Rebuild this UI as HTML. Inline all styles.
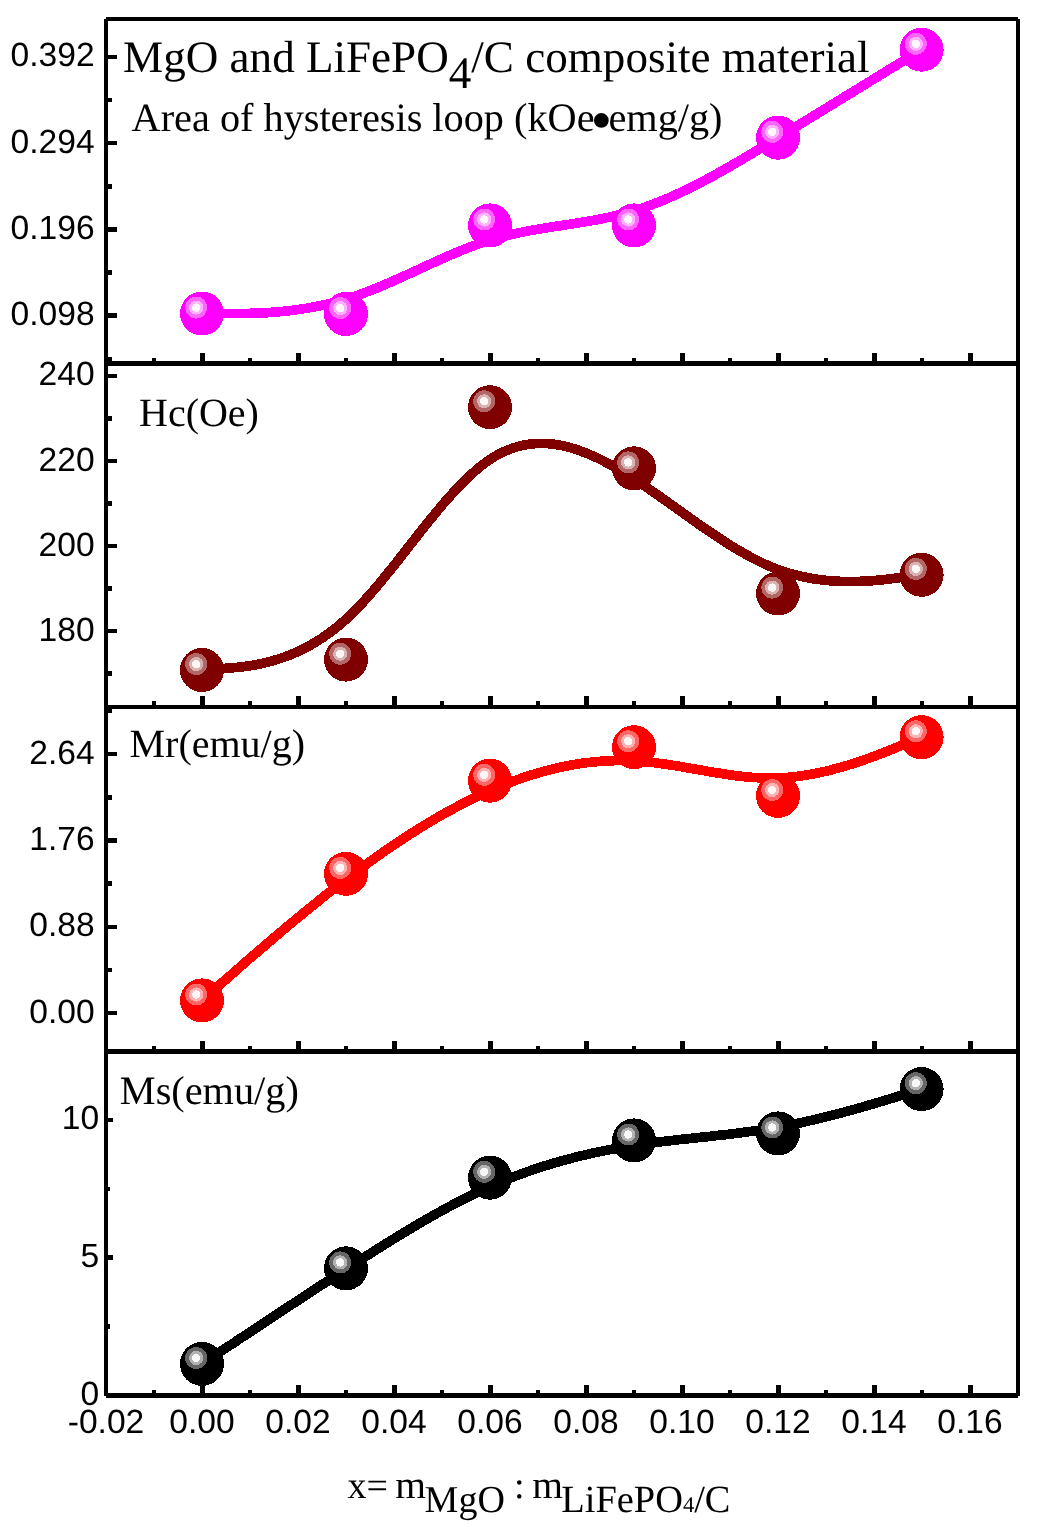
<!DOCTYPE html>
<html lang="en"><head><meta charset="utf-8"><title>MgO and LiFePO4/C composite material</title>
<style>html,body{margin:0;padding:0;background:#fff}svg{display:block}text{text-rendering:geometricPrecision}.a{font-family:"Liberation Sans",Arial,sans-serif;font-size:33.6px;fill:#000}.s{font-family:"Liberation Serif","Times New Roman",serif;fill:#000}</style></head><body>
<svg width="1038" height="1527" viewBox="0 0 1038 1527">
<defs><filter id="g" x="-5%" y="-20%" width="110%" height="140%"><feOffset dx="0" dy="0"/></filter></defs>
<rect width="1038" height="1527" fill="#fff"/>
<g shape-rendering="crispEdges">
<path d="M202.0,313.5 L202.0,313.5 L202.0,313.5 L202.0,313.5 L202.1,313.5 L202.2,313.5 L202.4,313.5 L202.6,313.5 L202.9,313.5 L203.3,313.5 L203.7,313.5 L204.3,313.5 L205.0,313.5 L205.8,313.5 L206.8,313.5 L207.9,313.5 L209.1,313.5 L210.5,313.5 L212.1,313.5 L213.9,313.5 L215.9,313.5 L218.1,313.6 L220.5,313.6 L223.1,313.6 L226.0,313.6 L229.1,313.6 L232.5,313.6 L236.1,313.6 L239.9,313.6 L243.9,313.5 L248.1,313.4 L252.5,313.3 L257.1,313.1 L261.9,312.9 L266.8,312.7 L271.8,312.3 L277.0,311.9 L282.3,311.4 L287.7,310.9 L293.3,310.2 L298.9,309.4 L304.6,308.6 L310.4,307.6 L316.2,306.5 L322.1,305.3 L328.0,304.0 L334.0,302.5 L340.0,300.9 L346.0,299.1 L352.0,297.2 L358.0,295.2 L364.0,293.0 L370.0,290.7 L376.0,288.3 L382.0,285.8 L388.0,283.2 L394.0,280.6 L400.0,277.9 L406.0,275.2 L412.0,272.5 L418.0,269.7 L424.0,266.9 L430.0,264.2 L436.0,261.4 L442.0,258.8 L448.0,256.1 L454.0,253.5 L460.0,251.1 L466.0,248.6 L472.0,246.3 L478.0,244.1 L484.0,242.1 L490.0,240.2 L496.0,238.4 L502.0,236.8 L508.0,235.3 L514.0,233.9 L520.0,232.6 L526.0,231.4 L532.0,230.3 L538.0,229.2 L544.0,228.2 L550.0,227.3 L556.0,226.3 L562.0,225.4 L568.0,224.5 L574.0,223.6 L580.0,222.6 L586.0,221.6 L592.0,220.6 L598.0,219.5 L604.0,218.3 L610.0,217.0 L616.0,215.6 L622.0,214.1 L628.0,212.5 L634.0,210.8 L640.0,208.9 L646.0,206.8 L652.0,204.6 L658.0,202.3 L664.0,199.9 L670.0,197.3 L676.0,194.6 L682.0,191.8 L688.0,188.9 L694.0,186.0 L700.0,182.9 L706.0,179.7 L712.0,176.5 L718.0,173.2 L724.0,169.8 L730.0,166.4 L736.0,162.9 L742.0,159.4 L748.0,155.8 L754.0,152.2 L760.0,148.6 L765.9,145.0 L771.9,141.3 L777.9,137.6 L783.9,134.0 L789.9,130.3 L795.9,126.7 L801.8,123.1 L807.7,119.5 L813.5,115.9 L819.3,112.4 L825.0,108.9 L830.6,105.5 L836.1,102.1 L841.5,98.8 L846.8,95.5 L852.0,92.4 L857.0,89.3 L861.9,86.3 L866.6,83.4 L871.2,80.6 L875.6,77.9 L879.8,75.3 L883.8,72.9 L887.6,70.5 L891.2,68.3 L894.6,66.3 L897.7,64.4 L900.5,62.6 L903.2,61.0 L905.6,59.5 L907.7,58.2 L909.7,57.0 L911.5,55.9 L913.1,54.9 L914.5,54.0 L915.8,53.3 L916.8,52.6 L917.8,52.0 L918.6,51.5 L919.3,51.1 L919.9,50.8 L920.3,50.5 L920.7,50.2 L921.0,50.1 L921.2,49.9 L921.4,49.8 L921.5,49.8 L921.6,49.7 L921.6,49.7 L921.6,49.7 L921.6,49.7" fill="none" stroke="#FF00FF" stroke-width="9.7" stroke-linecap="butt" stroke-linejoin="round"/>
<path d="M202.0,670.0 L202.0,670.0 L202.0,670.0 L202.0,670.0 L202.1,670.0 L202.2,670.0 L202.4,670.0 L202.6,670.0 L202.9,669.9 L203.3,669.9 L203.7,669.9 L204.3,669.8 L205.0,669.8 L205.8,669.7 L206.8,669.7 L207.9,669.6 L209.1,669.5 L210.5,669.4 L212.1,669.3 L213.9,669.1 L215.9,669.0 L218.1,668.8 L220.5,668.7 L223.1,668.5 L226.0,668.3 L229.1,668.0 L232.5,667.8 L236.1,667.5 L239.9,667.1 L243.9,666.6 L248.1,666.0 L252.5,665.3 L257.1,664.5 L261.9,663.5 L266.8,662.4 L271.8,661.1 L277.0,659.5 L282.3,657.8 L287.7,655.8 L293.3,653.6 L298.9,651.1 L304.6,648.3 L310.4,645.2 L316.2,641.7 L322.1,638.0 L328.0,633.9 L334.0,629.4 L340.0,624.5 L346.0,619.3 L352.0,613.6 L358.0,607.5 L364.0,601.1 L370.0,594.4 L376.0,587.5 L382.0,580.3 L388.0,572.9 L394.0,565.5 L400.0,557.9 L406.0,550.2 L412.0,542.5 L418.0,534.9 L424.0,527.3 L430.0,519.8 L436.0,512.5 L442.0,505.3 L448.0,498.4 L454.0,491.7 L460.0,485.3 L466.0,479.3 L472.0,473.7 L478.0,468.5 L484.0,463.7 L490.0,459.4 L496.0,455.7 L502.0,452.5 L508.0,449.9 L514.0,447.7 L520.0,446.0 L526.0,444.7 L532.0,443.9 L538.0,443.4 L544.0,443.4 L550.0,443.8 L556.0,444.5 L562.0,445.6 L568.0,447.0 L574.0,448.7 L580.0,450.8 L586.0,453.0 L592.0,455.6 L598.0,458.3 L604.0,461.3 L610.0,464.5 L616.0,467.9 L622.0,471.5 L628.0,475.2 L634.0,479.0 L640.0,482.9 L646.0,486.9 L652.0,491.1 L658.0,495.2 L664.0,499.5 L670.0,503.7 L676.0,508.0 L682.0,512.3 L688.0,516.6 L694.0,520.9 L700.0,525.1 L706.0,529.2 L712.0,533.3 L718.0,537.3 L724.0,541.3 L730.0,545.1 L736.0,548.7 L742.0,552.2 L748.0,555.6 L754.0,558.8 L760.0,561.8 L765.9,564.6 L771.9,567.2 L777.9,569.5 L783.9,571.6 L789.9,573.5 L795.9,575.1 L801.8,576.5 L807.7,577.7 L813.5,578.8 L819.3,579.6 L825.0,580.3 L830.6,580.8 L836.1,581.2 L841.5,581.4 L846.8,581.5 L852.0,581.6 L857.0,581.5 L861.9,581.3 L866.6,581.1 L871.2,580.8 L875.6,580.4 L879.8,580.0 L883.8,579.6 L887.6,579.2 L891.2,578.7 L894.6,578.3 L897.7,577.9 L900.5,577.5 L903.2,577.2 L905.6,576.9 L907.7,576.6 L909.7,576.3 L911.5,576.1 L913.1,575.9 L914.5,575.7 L915.8,575.6 L916.8,575.4 L917.8,575.3 L918.6,575.2 L919.3,575.1 L919.9,575.0 L920.3,575.0 L920.7,574.9 L921.0,574.9 L921.2,574.8 L921.4,574.8 L921.5,574.8 L921.6,574.8 L921.6,574.8 L921.6,574.8 L921.6,574.8" fill="none" stroke="#800000" stroke-width="9.7" stroke-linecap="butt" stroke-linejoin="round"/>
<path d="M202.0,1000.4 L202.0,1000.4 L202.0,1000.4 L202.0,1000.4 L202.1,1000.3 L202.2,1000.2 L202.4,1000.1 L202.6,999.9 L202.9,999.6 L203.3,999.3 L203.7,998.9 L204.3,998.4 L205.0,997.8 L205.8,997.0 L206.8,996.2 L207.9,995.2 L209.1,994.1 L210.5,992.9 L212.1,991.5 L213.9,989.9 L215.9,988.2 L218.1,986.3 L220.5,984.1 L223.1,981.8 L226.0,979.3 L229.1,976.6 L232.5,973.6 L236.1,970.5 L239.9,967.1 L243.9,963.6 L248.1,959.9 L252.5,956.1 L257.1,952.2 L261.9,948.1 L266.8,943.9 L271.8,939.6 L277.0,935.2 L282.3,930.7 L287.7,926.1 L293.3,921.5 L298.9,916.9 L304.6,912.2 L310.4,907.5 L316.2,902.8 L322.1,898.0 L328.0,893.3 L334.0,888.6 L340.0,884.0 L346.0,879.4 L352.0,874.8 L358.0,870.3 L364.0,865.9 L370.0,861.6 L376.0,857.3 L382.0,853.0 L388.0,848.9 L394.0,844.8 L400.0,840.8 L406.0,836.8 L412.0,833.0 L418.0,829.2 L424.0,825.5 L430.0,821.9 L436.0,818.3 L442.0,814.9 L448.0,811.5 L454.0,808.3 L460.0,805.1 L466.0,802.0 L472.0,799.0 L478.0,796.1 L484.0,793.3 L490.0,790.6 L496.0,788.0 L502.0,785.6 L508.0,783.2 L514.0,780.9 L520.0,778.8 L526.0,776.7 L532.0,774.8 L538.0,773.0 L544.0,771.3 L550.0,769.7 L556.0,768.2 L562.0,766.9 L568.0,765.7 L574.0,764.6 L580.0,763.6 L586.0,762.8 L592.0,762.1 L598.0,761.5 L604.0,761.1 L610.0,760.8 L616.0,760.6 L622.0,760.5 L628.0,760.7 L634.0,760.9 L640.0,761.3 L646.0,761.8 L652.0,762.4 L658.0,763.2 L664.0,764.0 L670.0,764.9 L676.0,765.8 L682.0,766.8 L688.0,767.9 L694.0,768.9 L700.0,770.0 L706.0,771.0 L712.0,772.1 L718.0,773.0 L724.0,774.0 L730.0,774.9 L736.0,775.7 L742.0,776.4 L748.0,777.0 L754.0,777.5 L760.0,777.8 L765.9,778.1 L771.9,778.1 L777.9,778.0 L783.9,777.7 L789.9,777.2 L795.9,776.6 L801.8,775.8 L807.7,774.9 L813.5,773.8 L819.3,772.7 L825.0,771.4 L830.6,770.0 L836.1,768.6 L841.5,767.1 L846.8,765.5 L852.0,763.9 L857.0,762.3 L861.9,760.7 L866.6,759.0 L871.2,757.4 L875.6,755.7 L879.8,754.1 L883.8,752.6 L887.6,751.1 L891.2,749.6 L894.6,748.3 L897.7,747.0 L900.5,745.8 L903.2,744.7 L905.6,743.8 L907.7,742.9 L909.7,742.1 L911.5,741.3 L913.1,740.7 L914.5,740.1 L915.8,739.6 L916.8,739.1 L917.8,738.8 L918.6,738.4 L919.3,738.1 L919.9,737.9 L920.3,737.7 L920.7,737.6 L921.0,737.4 L921.2,737.4 L921.4,737.3 L921.5,737.2 L921.6,737.2 L921.6,737.2 L921.6,737.2 L921.6,737.2" fill="none" stroke="#FF0000" stroke-width="9.7" stroke-linecap="butt" stroke-linejoin="round"/>
<path d="M202.0,1363.9 L202.0,1363.9 L202.0,1363.9 L202.0,1363.9 L202.1,1363.8 L202.2,1363.8 L202.4,1363.7 L202.6,1363.5 L202.9,1363.3 L203.3,1363.1 L203.7,1362.7 L204.3,1362.4 L205.0,1361.9 L205.8,1361.4 L206.8,1360.7 L207.9,1360.0 L209.1,1359.2 L210.5,1358.2 L212.1,1357.2 L213.9,1356.0 L215.9,1354.7 L218.1,1353.2 L220.5,1351.6 L223.1,1349.9 L226.0,1348.0 L229.1,1345.9 L232.5,1343.7 L236.1,1341.3 L239.9,1338.7 L243.9,1336.1 L248.1,1333.3 L252.5,1330.4 L257.1,1327.3 L261.9,1324.2 L266.8,1321.0 L271.8,1317.6 L277.0,1314.2 L282.3,1310.7 L287.7,1307.1 L293.3,1303.5 L298.9,1299.8 L304.6,1296.1 L310.4,1292.3 L316.2,1288.5 L322.1,1284.6 L328.0,1280.8 L334.0,1276.9 L340.0,1273.0 L346.0,1269.1 L352.0,1265.3 L358.0,1261.4 L364.0,1257.6 L370.0,1253.7 L376.0,1249.9 L382.0,1246.1 L388.0,1242.4 L394.0,1238.7 L400.0,1235.0 L406.0,1231.4 L412.0,1227.8 L418.0,1224.2 L424.0,1220.7 L430.0,1217.3 L436.0,1213.9 L442.0,1210.6 L448.0,1207.3 L454.0,1204.1 L460.0,1201.0 L466.0,1197.9 L472.0,1195.0 L478.0,1192.1 L484.0,1189.3 L490.0,1186.6 L496.0,1184.0 L502.0,1181.4 L508.0,1179.0 L514.0,1176.6 L520.0,1174.4 L526.0,1172.2 L532.0,1170.1 L538.0,1168.1 L544.0,1166.1 L550.0,1164.3 L556.0,1162.5 L562.0,1160.8 L568.0,1159.2 L574.0,1157.6 L580.0,1156.1 L586.0,1154.7 L592.0,1153.3 L598.0,1152.0 L604.0,1150.8 L610.0,1149.6 L616.0,1148.5 L622.0,1147.4 L628.0,1146.4 L634.0,1145.5 L640.0,1144.6 L646.0,1143.7 L652.0,1142.9 L658.0,1142.1 L664.0,1141.4 L670.0,1140.7 L676.0,1140.0 L682.0,1139.3 L688.0,1138.7 L694.0,1138.0 L700.0,1137.4 L706.0,1136.8 L712.0,1136.1 L718.0,1135.4 L724.0,1134.8 L730.0,1134.1 L736.0,1133.4 L742.0,1132.6 L748.0,1131.8 L754.0,1131.0 L760.0,1130.1 L765.9,1129.2 L771.9,1128.2 L777.9,1127.2 L783.9,1126.1 L789.9,1124.9 L795.9,1123.7 L801.8,1122.5 L807.7,1121.2 L813.5,1119.8 L819.3,1118.5 L825.0,1117.1 L830.6,1115.7 L836.1,1114.2 L841.5,1112.8 L846.8,1111.4 L852.0,1110.0 L857.0,1108.6 L861.9,1107.2 L866.6,1105.8 L871.2,1104.5 L875.6,1103.2 L879.8,1101.9 L883.8,1100.7 L887.6,1099.6 L891.2,1098.5 L894.6,1097.4 L897.7,1096.5 L900.5,1095.6 L903.2,1094.8 L905.6,1094.0 L907.7,1093.4 L909.7,1092.8 L911.5,1092.2 L913.1,1091.7 L914.5,1091.3 L915.8,1090.9 L916.8,1090.6 L917.8,1090.3 L918.6,1090.0 L919.3,1089.8 L919.9,1089.6 L920.3,1089.5 L920.7,1089.4 L921.0,1089.3 L921.2,1089.2 L921.4,1089.2 L921.5,1089.1 L921.6,1089.1 L921.6,1089.1 L921.6,1089.1 L921.6,1089.1" fill="none" stroke="#000000" stroke-width="9.7" stroke-linecap="butt" stroke-linejoin="round"/>
<circle cx="202.0" cy="313.5" r="22" fill="#FF00FF"/>
<circle cx="196.2" cy="307.6" r="11" fill="#FF66FF"/>
<circle cx="196.2" cy="307.6" r="7.1" fill="#FFB2FF"/>
<circle cx="196.2" cy="307.6" r="4.2" fill="#FFF7FF"/>
<circle cx="346.0" cy="314.0" r="22" fill="#FF00FF"/>
<circle cx="340.2" cy="308.1" r="11" fill="#FF66FF"/>
<circle cx="340.2" cy="308.1" r="7.1" fill="#FFB2FF"/>
<circle cx="340.2" cy="308.1" r="4.2" fill="#FFF7FF"/>
<circle cx="490.0" cy="225.4" r="22" fill="#FF00FF"/>
<circle cx="484.2" cy="219.5" r="11" fill="#FF66FF"/>
<circle cx="484.2" cy="219.5" r="7.1" fill="#FFB2FF"/>
<circle cx="484.2" cy="219.5" r="4.2" fill="#FFF7FF"/>
<circle cx="634.0" cy="225.4" r="22" fill="#FF00FF"/>
<circle cx="628.2" cy="219.5" r="11" fill="#FF66FF"/>
<circle cx="628.2" cy="219.5" r="7.1" fill="#FFB2FF"/>
<circle cx="628.2" cy="219.5" r="4.2" fill="#FFF7FF"/>
<circle cx="778.0" cy="137.7" r="22" fill="#FF00FF"/>
<circle cx="772.2" cy="131.8" r="11" fill="#FF66FF"/>
<circle cx="772.2" cy="131.8" r="7.1" fill="#FFB2FF"/>
<circle cx="772.2" cy="131.8" r="4.2" fill="#FFF7FF"/>
<circle cx="921.6" cy="49.7" r="22" fill="#FF00FF"/>
<circle cx="915.8" cy="43.8" r="11" fill="#FF66FF"/>
<circle cx="915.8" cy="43.8" r="7.1" fill="#FFB2FF"/>
<circle cx="915.8" cy="43.8" r="4.2" fill="#FFF7FF"/>
<circle cx="202.0" cy="670.0" r="22" fill="#800000"/>
<circle cx="196.2" cy="664.1" r="11" fill="#B36666"/>
<circle cx="196.2" cy="664.1" r="7.1" fill="#D9B2B2"/>
<circle cx="196.2" cy="664.1" r="4.2" fill="#FBF7F7"/>
<circle cx="346.0" cy="659.6" r="22" fill="#800000"/>
<circle cx="340.2" cy="653.7" r="11" fill="#B36666"/>
<circle cx="340.2" cy="653.7" r="7.1" fill="#D9B2B2"/>
<circle cx="340.2" cy="653.7" r="4.2" fill="#FBF7F7"/>
<circle cx="490.0" cy="407.2" r="22" fill="#800000"/>
<circle cx="484.2" cy="401.3" r="11" fill="#B36666"/>
<circle cx="484.2" cy="401.3" r="7.1" fill="#D9B2B2"/>
<circle cx="484.2" cy="401.3" r="4.2" fill="#FBF7F7"/>
<circle cx="634.0" cy="468.3" r="22" fill="#800000"/>
<circle cx="628.2" cy="462.4" r="11" fill="#B36666"/>
<circle cx="628.2" cy="462.4" r="7.1" fill="#D9B2B2"/>
<circle cx="628.2" cy="462.4" r="4.2" fill="#FBF7F7"/>
<circle cx="778.0" cy="593.5" r="22" fill="#800000"/>
<circle cx="772.2" cy="587.6" r="11" fill="#B36666"/>
<circle cx="772.2" cy="587.6" r="7.1" fill="#D9B2B2"/>
<circle cx="772.2" cy="587.6" r="4.2" fill="#FBF7F7"/>
<circle cx="921.6" cy="574.8" r="22" fill="#800000"/>
<circle cx="915.8" cy="568.9" r="11" fill="#B36666"/>
<circle cx="915.8" cy="568.9" r="7.1" fill="#D9B2B2"/>
<circle cx="915.8" cy="568.9" r="4.2" fill="#FBF7F7"/>
<circle cx="202.0" cy="1000.4" r="22" fill="#FF0000"/>
<circle cx="196.2" cy="994.5" r="11" fill="#FF6666"/>
<circle cx="196.2" cy="994.5" r="7.1" fill="#FFB2B2"/>
<circle cx="196.2" cy="994.5" r="4.2" fill="#FFF7F7"/>
<circle cx="346.0" cy="873.8" r="22" fill="#FF0000"/>
<circle cx="340.2" cy="867.9" r="11" fill="#FF6666"/>
<circle cx="340.2" cy="867.9" r="7.1" fill="#FFB2B2"/>
<circle cx="340.2" cy="867.9" r="4.2" fill="#FFF7F7"/>
<circle cx="490.0" cy="780.7" r="22" fill="#FF0000"/>
<circle cx="484.2" cy="774.8" r="11" fill="#FF6666"/>
<circle cx="484.2" cy="774.8" r="7.1" fill="#FFB2B2"/>
<circle cx="484.2" cy="774.8" r="4.2" fill="#FFF7F7"/>
<circle cx="634.0" cy="747.2" r="22" fill="#FF0000"/>
<circle cx="628.2" cy="741.3" r="11" fill="#FF6666"/>
<circle cx="628.2" cy="741.3" r="7.1" fill="#FFB2B2"/>
<circle cx="628.2" cy="741.3" r="4.2" fill="#FFF7F7"/>
<circle cx="778.0" cy="795.9" r="22" fill="#FF0000"/>
<circle cx="772.2" cy="790.0" r="11" fill="#FF6666"/>
<circle cx="772.2" cy="790.0" r="7.1" fill="#FFB2B2"/>
<circle cx="772.2" cy="790.0" r="4.2" fill="#FFF7F7"/>
<circle cx="921.6" cy="737.2" r="22" fill="#FF0000"/>
<circle cx="915.8" cy="731.3" r="11" fill="#FF6666"/>
<circle cx="915.8" cy="731.3" r="7.1" fill="#FFB2B2"/>
<circle cx="915.8" cy="731.3" r="4.2" fill="#FFF7F7"/>
<circle cx="202.0" cy="1363.9" r="22" fill="#000000"/>
<circle cx="196.2" cy="1358.0" r="11" fill="#666666"/>
<circle cx="196.2" cy="1358.0" r="7.1" fill="#B2B2B2"/>
<circle cx="196.2" cy="1358.0" r="4.2" fill="#F7F7F7"/>
<circle cx="346.0" cy="1268.3" r="22" fill="#000000"/>
<circle cx="340.2" cy="1262.4" r="11" fill="#666666"/>
<circle cx="340.2" cy="1262.4" r="7.1" fill="#B2B2B2"/>
<circle cx="340.2" cy="1262.4" r="4.2" fill="#F7F7F7"/>
<circle cx="490.0" cy="1177.7" r="22" fill="#000000"/>
<circle cx="484.2" cy="1171.8" r="11" fill="#666666"/>
<circle cx="484.2" cy="1171.8" r="7.1" fill="#B2B2B2"/>
<circle cx="484.2" cy="1171.8" r="4.2" fill="#F7F7F7"/>
<circle cx="634.0" cy="1140.4" r="22" fill="#000000"/>
<circle cx="628.2" cy="1134.5" r="11" fill="#666666"/>
<circle cx="628.2" cy="1134.5" r="7.1" fill="#B2B2B2"/>
<circle cx="628.2" cy="1134.5" r="4.2" fill="#F7F7F7"/>
<circle cx="778.0" cy="1133.4" r="22" fill="#000000"/>
<circle cx="772.2" cy="1127.5" r="11" fill="#666666"/>
<circle cx="772.2" cy="1127.5" r="7.1" fill="#B2B2B2"/>
<circle cx="772.2" cy="1127.5" r="4.2" fill="#F7F7F7"/>
<circle cx="921.6" cy="1089.1" r="22" fill="#000000"/>
<circle cx="915.8" cy="1083.2" r="11" fill="#666666"/>
<circle cx="915.8" cy="1083.2" r="7.1" fill="#B2B2B2"/>
<circle cx="915.8" cy="1083.2" r="4.2" fill="#F7F7F7"/>
</g>
<g fill="#000" shape-rendering="crispEdges">
<rect x="104" y="19" width="4" height="1377"/>
<rect x="1016" y="19" width="4" height="1377"/>
<rect x="106" y="17" width="912" height="4"/>
<rect x="106" y="361" width="912" height="5"/>
<rect x="106" y="705" width="912" height="4"/>
<rect x="106" y="1049" width="912" height="5"/>
<rect x="106" y="1393" width="912" height="5"/>
<rect x="152" y="358" width="4" height="7"/>
<rect x="200" y="353" width="4.5" height="12"/>
<rect x="248" y="358" width="4" height="7"/>
<rect x="296" y="353" width="4.5" height="12"/>
<rect x="344" y="358" width="4" height="7"/>
<rect x="392" y="353" width="4.5" height="12"/>
<rect x="440" y="358" width="4" height="7"/>
<rect x="488" y="353" width="4.5" height="12"/>
<rect x="536" y="358" width="4" height="7"/>
<rect x="584" y="353" width="4.5" height="12"/>
<rect x="632" y="358" width="4" height="7"/>
<rect x="680" y="353" width="4.5" height="12"/>
<rect x="728" y="358" width="4" height="7"/>
<rect x="776" y="353" width="4.5" height="12"/>
<rect x="824" y="358" width="4" height="7"/>
<rect x="872" y="353" width="4.5" height="12"/>
<rect x="920" y="358" width="4" height="7"/>
<rect x="968" y="353" width="4.5" height="12"/>
<rect x="152" y="701" width="4" height="7"/>
<rect x="200" y="696" width="4.5" height="12"/>
<rect x="248" y="701" width="4" height="7"/>
<rect x="296" y="696" width="4.5" height="12"/>
<rect x="344" y="701" width="4" height="7"/>
<rect x="392" y="696" width="4.5" height="12"/>
<rect x="440" y="701" width="4" height="7"/>
<rect x="488" y="696" width="4.5" height="12"/>
<rect x="536" y="701" width="4" height="7"/>
<rect x="584" y="696" width="4.5" height="12"/>
<rect x="632" y="701" width="4" height="7"/>
<rect x="680" y="696" width="4.5" height="12"/>
<rect x="728" y="701" width="4" height="7"/>
<rect x="776" y="696" width="4.5" height="12"/>
<rect x="824" y="701" width="4" height="7"/>
<rect x="872" y="696" width="4.5" height="12"/>
<rect x="920" y="701" width="4" height="7"/>
<rect x="968" y="696" width="4.5" height="12"/>
<rect x="152" y="1046" width="4" height="7"/>
<rect x="200" y="1041" width="4.5" height="12"/>
<rect x="248" y="1046" width="4" height="7"/>
<rect x="296" y="1041" width="4.5" height="12"/>
<rect x="344" y="1046" width="4" height="7"/>
<rect x="392" y="1041" width="4.5" height="12"/>
<rect x="440" y="1046" width="4" height="7"/>
<rect x="488" y="1041" width="4.5" height="12"/>
<rect x="536" y="1046" width="4" height="7"/>
<rect x="584" y="1041" width="4.5" height="12"/>
<rect x="632" y="1046" width="4" height="7"/>
<rect x="680" y="1041" width="4.5" height="12"/>
<rect x="728" y="1046" width="4" height="7"/>
<rect x="776" y="1041" width="4.5" height="12"/>
<rect x="824" y="1046" width="4" height="7"/>
<rect x="872" y="1041" width="4.5" height="12"/>
<rect x="920" y="1046" width="4" height="7"/>
<rect x="968" y="1041" width="4.5" height="12"/>
<rect x="152" y="1390" width="4" height="7"/>
<rect x="200" y="1385" width="4.5" height="12"/>
<rect x="248" y="1390" width="4" height="7"/>
<rect x="296" y="1385" width="4.5" height="12"/>
<rect x="344" y="1390" width="4" height="7"/>
<rect x="392" y="1385" width="4.5" height="12"/>
<rect x="440" y="1390" width="4" height="7"/>
<rect x="488" y="1385" width="4.5" height="12"/>
<rect x="536" y="1390" width="4" height="7"/>
<rect x="584" y="1385" width="4.5" height="12"/>
<rect x="632" y="1390" width="4" height="7"/>
<rect x="680" y="1385" width="4.5" height="12"/>
<rect x="728" y="1390" width="4" height="7"/>
<rect x="776" y="1385" width="4.5" height="12"/>
<rect x="824" y="1390" width="4" height="7"/>
<rect x="872" y="1385" width="4.5" height="12"/>
<rect x="920" y="1390" width="4" height="7"/>
<rect x="968" y="1385" width="4.5" height="12"/>
<rect x="107" y="356.6" width="5" height="4.5"/>
<rect x="107" y="313.4" width="10" height="4.5"/>
<rect x="107" y="270.3" width="5" height="4.5"/>
<rect x="107" y="227.1" width="10" height="4.5"/>
<rect x="107" y="184" width="5" height="4.5"/>
<rect x="107" y="140.8" width="10" height="4.5"/>
<rect x="107" y="97.7" width="5" height="4.5"/>
<rect x="107" y="54.6" width="10" height="4.5"/>
<rect x="107" y="671.3" width="5" height="4.5"/>
<rect x="107" y="628.8" width="10" height="4.4"/>
<rect x="107" y="586.2" width="5" height="4.5"/>
<rect x="107" y="543.7" width="10" height="4.5"/>
<rect x="107" y="501.2" width="5" height="4.5"/>
<rect x="107" y="458.7" width="10" height="4.5"/>
<rect x="107" y="416.2" width="5" height="4.5"/>
<rect x="107" y="373.7" width="10" height="4.5"/>
<rect x="107" y="1010.9" width="10" height="4.5"/>
<rect x="107" y="967.7" width="5" height="4.5"/>
<rect x="107" y="924.5" width="10" height="4.5"/>
<rect x="107" y="881.4" width="5" height="4.5"/>
<rect x="107" y="838.2" width="10" height="4.5"/>
<rect x="107" y="795.1" width="5" height="4.5"/>
<rect x="107" y="751.9" width="10" height="4.5"/>
<rect x="107" y="708.7" width="5" height="4.5"/>
<rect x="107" y="1324.3" width="3" height="4.5"/>
<rect x="107" y="1255.4" width="6" height="4.5"/>
<rect x="107" y="1186.5" width="3" height="4.5"/>
<rect x="107" y="1117.5" width="6" height="4.5"/>
</g>
<g class="a" text-anchor="end" filter="url(#g)">
<text x="94.6" y="325.2">0.098</text>
<text x="94.6" y="238.9">0.196</text>
<text x="94.6" y="152.6">0.294</text>
<text x="94.6" y="66.3">0.392</text>
<text x="94.6" y="640.5">180</text>
<text x="94.6" y="555.5">200</text>
<text x="94.6" y="470.5">220</text>
<text x="94.6" y="385.4">240</text>
<text x="94.6" y="1022.6">0.00</text>
<text x="94.6" y="936.3">0.88</text>
<text x="94.6" y="850.0">1.76</text>
<text x="94.6" y="763.6">2.64</text>
<text x="99.2" y="1405.0">0</text>
<text x="99.2" y="1267.1">5</text>
<text x="99.2" y="1129.3">10</text>
</g>
<g class="a" text-anchor="middle" filter="url(#g)">
<text x="106.0" y="1433.3">-0.02</text>
<text x="202.0" y="1433.3">0.00</text>
<text x="298.0" y="1433.3">0.02</text>
<text x="394.0" y="1433.3">0.04</text>
<text x="490.0" y="1433.3">0.06</text>
<text x="586.0" y="1433.3">0.08</text>
<text x="682.0" y="1433.3">0.10</text>
<text x="778.0" y="1433.3">0.12</text>
<text x="874.0" y="1433.3">0.14</text>
<text x="970.0" y="1433.3">0.16</text>
</g>
<g class="s" filter="url(#g)">
<text x="123.1" y="72.1" font-size="45.1">MgO and LiFePO<tspan dy="15.4">4</tspan><tspan dy="-15.4">/C composite material</tspan></text>
<text x="131.6" y="131.1" font-size="40.27">Area of hysteresis loop (kOe<tspan font-size="62" dx="-3.9" dy="9.4">•</tspan><tspan dx="-3.9" dy="-9.4">emg/g)</tspan></text>
<text x="139" y="425.6" font-size="40">Hc(Oe)</text>
<text x="129.5" y="756.8" font-size="40">Mr(emu/g)</text>
<text x="119.8" y="1103.9" font-size="40.3">Ms(emu/g)</text>
<g font-size="38">
<text x="347.5" y="1498">x=</text>
<text x="395.2" y="1498" font-size="39.5">m</text>
<text x="424.6" y="1511.8">MgO</text>
<text x="514" y="1498">:</text>
<text x="532.2" y="1498" font-size="39.5">m</text>
<text x="561.3" y="1511.8" font-size="38.4">LiFePO<tspan font-size="22.5">4</tspan>/C</text>
</g>
</g>
</svg></body></html>
